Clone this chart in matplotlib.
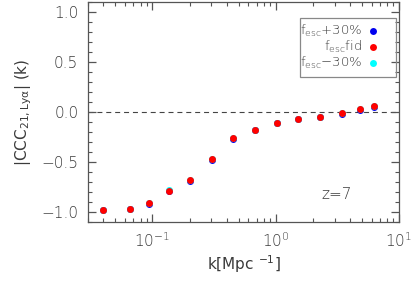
import matplotlib
matplotlib.use("Agg")
import matplotlib.pyplot as plt
from matplotlib.patches import Rectangle

# ---- data ----
k = [0.040, 0.066, 0.094, 0.136, 0.203, 0.305, 0.453, 0.679, 1.015, 1.52, 2.28, 3.43, 4.79, 6.22]
ccc_fid = [-0.980, -0.970, -0.914, -0.787, -0.684, -0.474, -0.264, -0.180, -0.110, -0.070, -0.050, -0.014, 0.026, 0.056]
ccc_plus = [-0.983, -0.973, -0.918, -0.791, -0.689, -0.480, -0.268, -0.183, -0.113, -0.072, -0.052, -0.016, 0.024, 0.054]
ccc_minus = [-0.977, -0.967, -0.910, -0.783, -0.679, -0.468, -0.260, -0.177, -0.107, -0.068, -0.048, -0.012, 0.028, 0.058]
labels = [r"f$_{esc}$+30%", r"f$_{esc}$fid", r"f$_{esc}$$-$30%"]
colors = ["#0000ee", "#ff0000", "#00ffff"]

plt.rcParams['font.family'] = ['DejaVu Sans']
plt.rcParams['font.weight'] = 'light'
plt.rcParams['mathtext.default'] = 'regular'
txtc = '#3a3a3a'
axc = '#555555'

fig = plt.figure(figsize=(4.15, 2.87), dpi=100)
ax = fig.add_axes([88/415, 1-222/287, (399-88)/415, 220/287])

ax.axhline(0, color='#444444', lw=0.8, dashes=(4.5, 3.5), zorder=1)
ax.plot(k, ccc_plus, 'o', color=colors[0], ms=5, mec='none', zorder=3)
ax.plot(k, ccc_minus, 'o', color=colors[2], ms=5, mec='none', zorder=3)
ax.plot(k, ccc_fid, 'o', color=colors[1], ms=5, mec='none', zorder=4)

ax.set_xscale('log')
ax.set_xlim(0.03, 10)
ax.set_ylim(-1.1, 1.1)
ax.set_yticks([-1.0, -0.5, 0.0, 0.5, 1.0])
ax.set_yticklabels(['\u22121.0', '\u22120.5', '0.0', '0.5', '1.0'])
ax.set_yticks([v / 10 for v in range(-11, 12)], minor=True)

ax.tick_params(which='both', direction='in', top=True, right=True, colors=axc,
               labelcolor=txtc, labelsize=11)
ax.tick_params(which='major', length=6, width=0.9, pad=7)
ax.tick_params(which='minor', length=3, width=0.8)
for s in ax.spines.values():
    s.set_color(axc)
    s.set_linewidth(0.9)

ax.set_xlabel(r"k[Mpc $^{-1}$]", fontsize=11, color=txtc, labelpad=2)
ax.set_ylabel(r"|CCC$_{21,Ly\alpha}$| (k)", fontsize=11, color=txtc, labelpad=5)

ax.text(0.80, 0.125, "z=7", transform=ax.transAxes, fontsize=11, color=txtc,
        ha='center', va='center')

# manual legend (text right-aligned, marker on the right)
lx0, ly0, lx1, ly1 = 300, 18, 396, 77
def fx(px):
    return (px - 88) / (399 - 88)
def fy(py):
    return (222 - py) / 220
ax.add_patch(Rectangle((fx(lx0), fy(ly1)), fx(lx1) - fx(lx0), fy(ly0) - fy(ly1),
                       transform=ax.transAxes, fill=False, ec='#888888', lw=0.9, zorder=5))
ys = [31, 47, 63]
for lab, c, yy in zip(labels, colors, ys):
    ax.text(fx(362), fy(yy), lab, transform=ax.transAxes, ha='right', va='center',
            fontsize=9.5, color=txtc, zorder=6)
    ax.plot([fx(373)], [fy(yy)], 'o', color=c, ms=5, mec='none',
            transform=ax.transAxes, zorder=6, clip_on=False)

fig.savefig('out.png', dpi=100)
